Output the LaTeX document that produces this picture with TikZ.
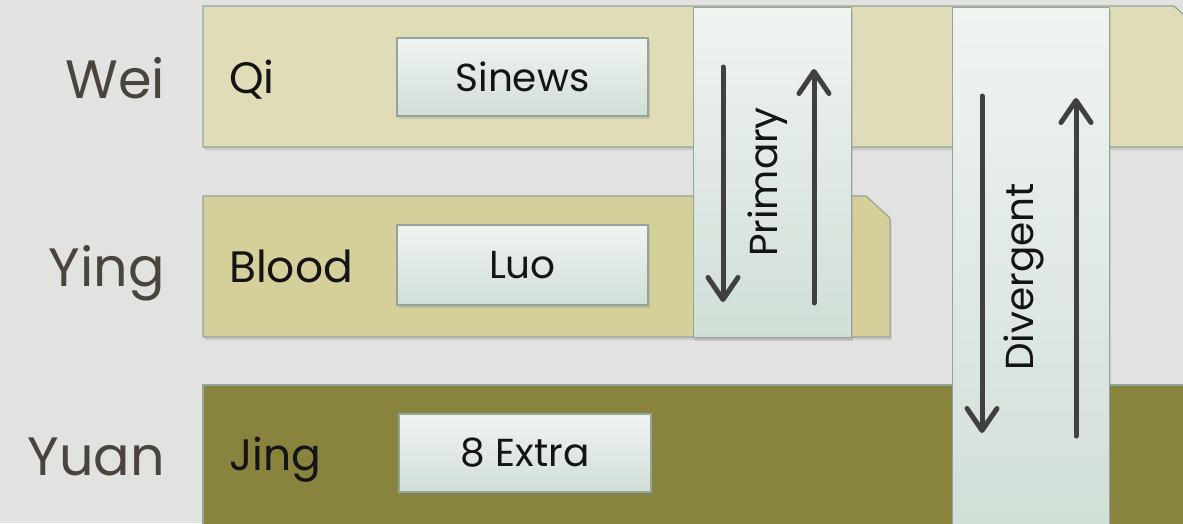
\documentclass[tikz,border=0pt]{standalone}
\usepackage{fontspec}
\setmainfont{Poppins}
\usetikzlibrary{arrows.meta,shadows}
\definecolor{bg}{HTML}{E2E2E0}
\definecolor{weiC}{HTML}{E0DCB8}
\definecolor{yingC}{HTML}{D5CF9A}
\definecolor{yuanC}{HTML}{88843E}
\definecolor{edgeC}{HTML}{93A59B}
\definecolor{boxTop}{HTML}{F0F4F1}
\definecolor{boxBot}{HTML}{D0DED6}
\definecolor{arrC}{HTML}{404040}
\definecolor{lblC}{HTML}{4A443C}
\definecolor{txtC}{HTML}{141414}
\tikzset{
  shad/.style={drop shadow={opacity=0.25,shadow xshift=1.5pt,shadow yshift=-3pt}},
  band/.style={draw=edgeC,line width=1.2pt,shad},
  colbox/.style={draw=edgeC,line width=1.2pt,top color=boxTop,bottom color=boxBot,shad},
  innerbox/.style={draw=edgeC,line width=1.2pt,top color=boxTop,bottom color=boxBot,shad,
    rectangle,inner sep=0pt,text=txtC,font=\fontsize{39}{42}\selectfont},
  side/.style={anchor=base east,text=lblC,font=\fontsize{54}{58}\selectfont,inner sep=0pt},
  inlbl/.style={anchor=base west,text=txtC,font=\fontsize{44}{48}\selectfont,inner sep=0pt},
  vlbl/.style={rotate=90,text=txtC,inner sep=0pt,font=\fontsize{39}{42}\selectfont},
  arr/.style={draw=arrC,line width=5pt,line cap=round,-{Straight Barb[length=22pt,width=30pt,round]}}
}
\begin{document}
\begin{tikzpicture}[x=1pt,y=-1pt]
\clip (0,0) rectangle (1183,523);
\fill[bg] (0,0) rectangle (1183,523);
% bands
\path[band,fill=weiC] (203,6) -- (1174,6) -- (1198,28) -- (1198,147) -- (203,147) -- cycle;
\path[band,fill=yingC] (203,196) -- (866,196) -- (890,218) -- (890,337) -- (203,337) -- cycle;
\path[band,fill=yuanC] (203,385) -- (1200,385) -- (1200,540) -- (203,540) -- cycle;
% columns
\node[colbox,rectangle,anchor=north west,minimum width=158pt,minimum height=330pt,inner sep=0pt] (primary) at (693,7) {};
\node[colbox,rectangle,anchor=north west,minimum width=157pt,minimum height=540pt,inner sep=0pt] (divergent) at (952,7) {};
% side labels
\node[side] (wei) at (165,98) {Wei};
\node[side] (ying) at (165,286) {Ying};
\node[side] (yuan) at (165,475) {Yuan};
% inner labels
\node[inlbl] (qi) at (229,93) {Qi};
\node[inlbl] (blood) at (229,282) {Blood};
\node[inlbl] (jing) at (229,470) {Jing};
% boxes
\node[innerbox,minimum width=251pt,minimum height=78pt] (sinews) at (522.5,77) {Sinews};
\node[innerbox,minimum width=251pt,minimum height=80pt] (luo) at (522.5,265) {Luo};
\node[innerbox,minimum width=252pt,minimum height=78pt] (extra) at (525,453) {8 Extra};
% vertical labels
\node[vlbl] (plbl) at (768,182) {Primary};
\node[vlbl] (dlbl) at (1024,277) {Divergent};
% arrows
\coordinate (pd1) at (723,67); \coordinate (pd2) at (723,302);
\coordinate (pu1) at (814,303); \coordinate (pu2) at (814,69);
\coordinate (dd1) at (982,96); \coordinate (dd2) at (982,433);
\coordinate (du1) at (1076,436); \coordinate (du2) at (1076,98);
\draw[arr] (pd1) -- (pd2);
\draw[arr] (pu1) -- (pu2);
\draw[arr] (dd1) -- (dd2);
\draw[arr] (du1) -- (du2);
\end{tikzpicture}
\end{document}
